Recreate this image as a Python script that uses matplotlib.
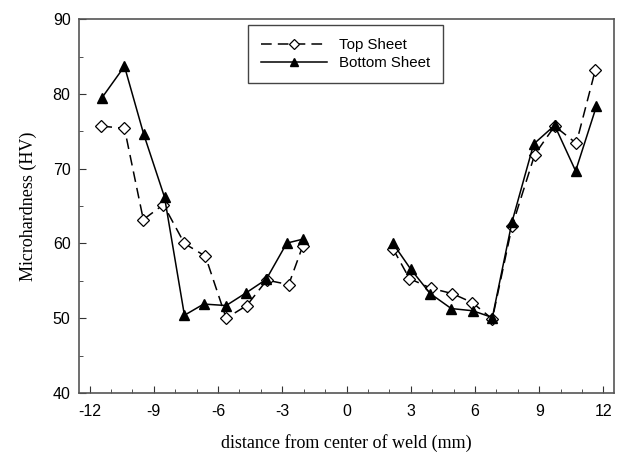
import numpy as np
import matplotlib.pyplot as plt

plt.rcParams['axes.unicode_minus'] = False

# top sheet (open diamonds, dashed)
top_x_left = [-11.45, -10.37, -9.49, -8.55, -7.57, -6.59, -5.62, -4.66, -3.72, -2.70, -2.04]
top_y_left = [75.7, 75.4, 63.2, 65.2, 60.0, 58.3, 50.0, 51.7, 55.1, 54.5, 59.7]
top_x_right = [2.17, 2.94, 3.96, 4.94, 5.87, 6.81, 7.73, 8.79, 9.72, 10.73, 11.62]
top_y_right = [59.3, 55.3, 54.0, 53.3, 52.1, 49.9, 62.3, 71.9, 75.7, 73.4, 83.2]

# bottom sheet (filled triangles, solid)
bot_x_left = [-11.42, -10.37, -9.47, -8.50, -7.57, -6.67, -5.62, -4.69, -3.75, -2.79, -2.01]
bot_y_left = [79.5, 83.7, 74.6, 66.2, 50.4, 51.9, 51.7, 53.4, 55.2, 60.05, 60.6]
bot_x_right = [2.17, 2.99, 3.91, 4.89, 5.90, 6.81, 7.73, 8.74, 9.72, 10.70, 11.67]
bot_y_right = [60.0, 56.6, 53.3, 51.3, 51.0, 50.1, 62.9, 73.3, 75.8, 69.7, 78.35]

x_ticks = [-12, -9, -6, -3, 0, 3, 6, 9, 12]
y_ticks = [40, 50, 60, 70, 80, 90]

fig = plt.figure(figsize=(6.21, 4.57), dpi=100)
ax = fig.add_axes([0.127, 0.140, 0.862, 0.818])

top_style = dict(color='black', linestyle=(0, (7, 4)), linewidth=1.1,
                 marker='D', markersize=6.5, markerfacecolor='white',
                 markeredgecolor='black', markeredgewidth=0.9)
bot_style = dict(color='black', linestyle='-', linewidth=1.1,
                 marker='^', markersize=7.5, markerfacecolor='black',
                 markeredgecolor='black')

ax.plot(top_x_left, top_y_left, label='Top Sheet', **top_style)
ax.plot(top_x_right, top_y_right, **top_style)
ax.plot(bot_x_left, bot_y_left, label='Bottom Sheet', **bot_style)
ax.plot(bot_x_right, bot_y_right, **bot_style)

ax.set_xlim(-12.5, 12.5)
ax.set_ylim(40, 90)
ax.set_xticks(x_ticks)
ax.set_yticks(y_ticks)
ax.set_xticks(np.arange(-12, 13, 1), minor=True)
ax.set_yticks(np.arange(40, 91, 5), minor=True)
ax.tick_params(which='both', direction='in', colors='#333333', labelcolor='black',
               labelsize=11.5)
ax.tick_params(which='major', length=5)
ax.tick_params(which='minor', length=3)
ax.tick_params(axis='x', which='major', pad=8)
ax.tick_params(axis='y', which='major', pad=6)
for lab in ax.get_xticklabels() + ax.get_yticklabels():
    lab.set_family('Liberation Sans')
for s in ax.spines.values():
    s.set_color('#555555')
    s.set_linewidth(1.2)

ax.set_xlabel('distance from center of weld (mm)', family='Liberation Serif',
              fontsize=13, labelpad=11)
ax.set_ylabel('Microhardness (HV)', family='Liberation Serif', fontsize=13,
              labelpad=11)

leg = ax.legend(loc='upper left', bbox_to_anchor=(0.316, 0.984), borderaxespad=0,
                fancybox=False, edgecolor='#444444', framealpha=1,
                handlelength=4.4, handletextpad=0.8, markerscale=0.85,
                prop={'family': 'Liberation Sans', 'size': 10.8},
                borderpad=0.85, labelspacing=0.3)
leg.get_frame().set_linewidth(1.0)

fig.savefig('out.png', dpi=100)
